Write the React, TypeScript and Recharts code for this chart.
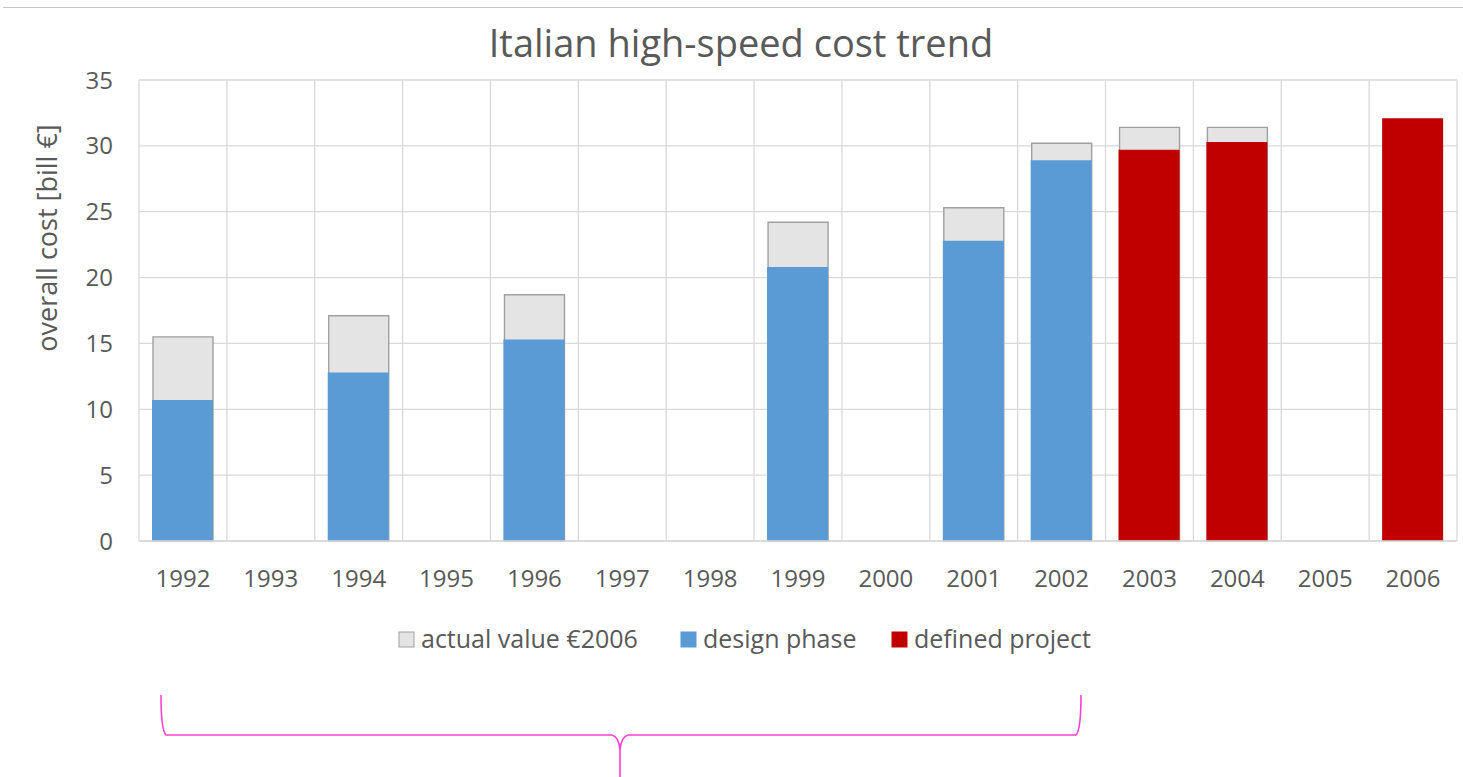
import React from 'react';
import { BarChart, Bar, XAxis, YAxis, CartesianGrid } from 'recharts';

// values, billions of euro
const YEARS = ['1992', '1993', '1994', '1995', '1996', '1997', '1998', '1999', '2000', '2001', '2002', '2003', '2004', '2005', '2006'];
const DESIGN_PHASE = [10.7, null, 12.8, null, 15.3, null, null, 20.8, null, 22.8, 28.9, null, null, null, null];
const DEFINED_PROJECT = [null, null, null, null, null, null, null, null, null, null, null, 29.7, 30.3, null, 32.1];
const ACTUAL_2006 = [15.5, null, 17.1, null, 18.7, null, null, 24.2, null, 25.3, 30.2, 31.4, 31.4, null, null];
const Y_TICKS = [0, 5, 10, 15, 20, 25, 30, 35];

const TEXT = '#595959';
const GRID = '#d9d9d9';
const FONT = '"Open Sans", sans-serif';

const SERIES = [
  { key: 'actual', name: 'actual value €2006', fill: '#e4e4e4', stroke: '#a0a0a0' },
  { key: 'design', name: 'design phase', fill: '#5b9bd5', stroke: 'none' },
  { key: 'defined', name: 'defined project', fill: '#c00000', stroke: 'none' },
];

const data = YEARS.map((year, i) => ({
  year,
  actual: ACTUAL_2006[i],
  design: DESIGN_PHASE[i],
  defined: DEFINED_PROJECT[i],
}));

function Legend() {
  // hand laid-out legend so the plot area does not move
  const starts = [399, 681, 892];
  return (
    <g fontFamily={FONT} fontSize={25} fill={TEXT}>
      {SERIES.map((s, i) => (
        <g key={s.key}>
          <rect
            x={starts[i]}
            y={632}
            width={15}
            height={15}
            fill={s.fill}
            stroke={s.stroke === 'none' ? s.fill : s.stroke}
            strokeWidth={1}
          />
          <text x={starts[i] + 22} y={648}>{s.name}</text>
        </g>
      ))}
    </g>
  );
}

export default function App() {
  return (
    <div style={{ position: 'absolute', left: 0, top: 0, width: 1463, height: 777, background: '#fff', overflow: 'hidden' }}>
      <div style={{ position: 'absolute', left: 3, right: 0, top: 7, borderTop: '1px solid #c6c6c6' }} />
      <BarChart
        width={1463}
        height={777}
        data={data}
        margin={{ top: 80, right: 6, bottom: 206, left: 0 }}
        style={{ position: 'absolute', left: 0, top: 0 }}
      >
        <CartesianGrid
          xAxisId="front"
          stroke={GRID}
          strokeWidth={1.3}
          verticalCoordinatesGenerator={({ offset }: any) =>
            Array.from({ length: YEARS.length + 1 }, (_, i) => offset.left + (i * offset.width) / YEARS.length)
          }
        />
        <XAxis xAxisId="back" dataKey="year" hide height={0} />
        <XAxis
          xAxisId="front"
          dataKey="year"
          height={30}
          interval={0}
          tickLine={false}
          tickSize={0}
          tickMargin={29}
          axisLine={{ stroke: GRID, strokeWidth: 1.3 }}
          tick={{ fontSize: 24, fill: TEXT, fontFamily: FONT }}
        />
        <YAxis
          width={139}
          domain={[0, 35]}
          ticks={Y_TICKS}
          interval={0}
          axisLine={false}
          tickLine={false}
          tickSize={0}
          tickMargin={26}
          tick={{ fontSize: 24, fill: TEXT, fontFamily: FONT }}
        />
        <Bar
          xAxisId="back"
          dataKey="actual"
          name={SERIES[0].name}
          barSize={60}
          fill={SERIES[0].fill}
          stroke={SERIES[0].stroke}
          strokeWidth={1.4}
          isAnimationActive={false}
        />
        <Bar
          xAxisId="front"
          dataKey="design"
          name={SERIES[1].name}
          stackId="cost"
          barSize={61}
          fill={SERIES[1].fill}
          isAnimationActive={false}
        />
        <Bar
          xAxisId="front"
          dataKey="defined"
          name={SERIES[2].name}
          stackId="cost"
          barSize={61}
          fill={SERIES[2].fill}
          isAnimationActive={false}
        />
      </BarChart>
      <svg width={1463} height={777} style={{ position: 'absolute', left: 0, top: 0, pointerEvents: 'none' }}>
        <text x={741} y={57} textAnchor="middle" fontFamily={FONT} fontSize={38} fill={TEXT}>
          Italian high-speed cost trend
        </text>
        <text
          x={57}
          y={238}
          textAnchor="middle"
          transform="rotate(-90, 57, 238)"
          fontFamily={FONT}
          fontSize={27}
          fill={TEXT}
        >
          overall cost [bill €]
        </text>
        <Legend />
        <path
          d="M161 695 Q161 730 166 735 L612 735 Q619 737 620 750 L620 777 M620 750 Q621 737 628 735 L1076 735 Q1081 730 1081 695"
          fill="none"
          stroke="#ff40d0"
          strokeWidth={1.6}
        />
      </svg>
    </div>
  );
}
